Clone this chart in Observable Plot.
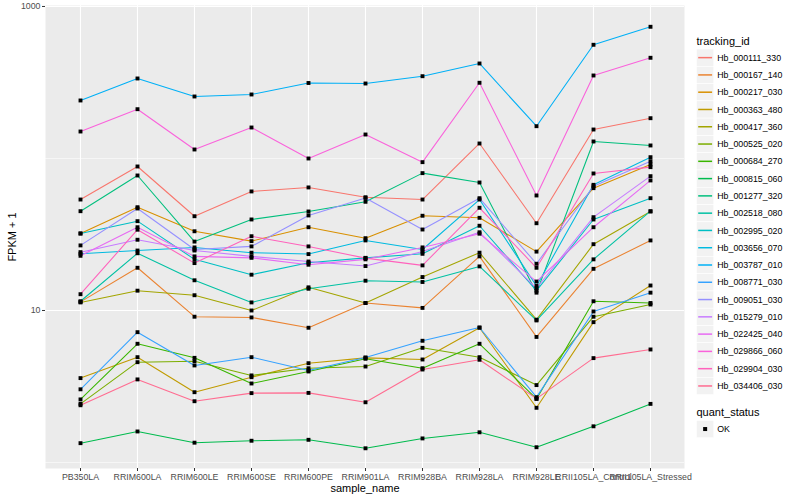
<!DOCTYPE html>
<html>
<head>
<meta charset="utf-8">
<script src="https://cdn.jsdelivr.net/npm/d3@7"></script>
<script src="https://cdn.jsdelivr.net/npm/@observablehq/plot@0.6"></script>
<style>
  body { margin: 0; background: #fff; font-family: "Liberation Sans", Arial, Helvetica, sans-serif; }
  #wrap { position: relative; width: 800px; height: 500px; overflow: hidden; }
  #wrap > svg { display: block; }
  g[aria-label="x-axis tick label"], g[aria-label="y-axis tick label"] { font-size: 8.8px; fill: #4D4D4D; }
  g[aria-label="x-axis label"], g[aria-label="y-axis label"] { font-size: 11px; fill: #000; }
  g[aria-label="x-axis tick"], g[aria-label="y-axis tick"] { stroke: #333333; }
  .legend { position: absolute; left: 690px; top: 0; }
</style>
</head>
<body>
<div id="wrap"></div>
<script>
// x categories
const samples = ["PB350LA", "RRIM600LA", "RRIM600LE", "RRIM600SE", "RRIM600PE", "RRIM901LA",
                 "RRIM928BA", "RRIM928LA", "RRIM928LE", "RRII105LA_Control", "RRII105LA_Stressed"];

// series (tracking_id) names and colours
const ids = ["Hb_000111_330", "Hb_000167_140", "Hb_000217_030", "Hb_000363_480", "Hb_000417_360",
             "Hb_000525_020", "Hb_000684_270", "Hb_000815_060", "Hb_001277_320", "Hb_002518_080",
             "Hb_002995_020", "Hb_003656_070", "Hb_003787_010", "Hb_008771_030", "Hb_009051_030",
             "Hb_015279_010", "Hb_022425_040", "Hb_029866_060", "Hb_029904_030", "Hb_034406_030"];
const colors = ["#F8766D", "#EA8331", "#D89000", "#C09B00", "#A3A500", "#7CAE00", "#39B600", "#00BB4E",
                "#00BF7D", "#00C1A3", "#00BFC4", "#00BAE0", "#00B0F6", "#35A2FF", "#9590FF", "#C77CFF",
                "#E76BF3", "#FA62DB", "#FF62BC", "#FF6C91"];

// FPKM + 1 values per series, in the order of samples
const hb000111_330 = [53.7, 88.6, 41.7, 60.7, 64.5, 55.6, 53.7, 125.5, 37.5, 155.1, 184.1];
const hb000167_140 = [11.4, 19.1, 9.1, 9.0, 7.7, 11.2, 10.4, 22.7, 6.7, 18.8, 28.9];
const hb000217_030 = [32.1, 47.8, 33.2, 28.6, 35.3, 29.9, 42.0, 40.7, 24.4, 63.8, 91.3];
const hb000363_480 = [3.59, 4.93, 2.90, 3.64, 4.50, 4.88, 4.76, 7.7, 2.29, 8.38, 14.6];
const hb000417_360 = [11.3, 13.5, 12.6, 10.0, 14.2, 11.2, 16.6, 24.0, 8.7, 27.3, 44.8];
const hb000525_020 = [2.43, 4.57, 4.64, 3.74, 4.17, 4.28, 5.68, 4.93, 3.23, 9.1, 10.95];
const hb000684_270 = [2.60, 6.04, 4.88, 3.31, 3.97, 4.81, 4.17, 6.04, 2.62, 11.5, 11.2];
const hb000815_060 = [1.34, 1.60, 1.35, 1.39, 1.41, 1.24, 1.44, 1.58, 1.26, 1.73, 2.43];
const hb001277_320 = [45.0, 77.3, 28.4, 39.7, 44.8, 51.9, 80.1, 69.5, 13.1, 129.4, 121.8];
const hb002518_080 = [11.5, 23.8, 15.8, 11.3, 13.9, 15.7, 15.4, 19.5, 8.6, 21.7, 45.0];
const hb002995_020 = [32.1, 38.7, 21.7, 17.2, 20.6, 22.2, 23.6, 36.1, 13.5, 39.7, 54.8];
const hb003656_070 = [23.6, 24.8, 26.0, 24.0, 23.5, 28.9, 25.2, 53.7, 14.5, 67.1, 102];
const hb003787_010 = [240.8, 336, 255.8, 263.7, 313.8, 311.4, 347.8, 421.7, 163.1, 559.8, 735.3];
const hb008771_030 = [3.03, 7.20, 4.35, 4.93, 4.03, 4.91, 6.32, 7.73, 2.69, 9.85, 13.1];
const hb009051_030 = [26.8, 46.9, 25.2, 26.4, 42.2, 55.0, 34.1, 54.8, 20.3, 65.7, 96.0];
const hb015279_010 = [24.2, 29.2, 24.8, 22.7, 21.0, 19.6, 24.4, 32.7, 14.0, 41.1, 76.5];
const hb022425_040 = [22.9, 35.3, 22.7, 22.2, 20.0, 21.7, 26.0, 32.0, 15.5, 35.3, 71.7];
const hb029866_060 = [150.5, 211, 114.6, 159.9, 100, 143.8, 94.6, 314.8, 57.1, 351.6, 459.7];
const hb029904_030 = [12.8, 34.0, 20.5, 30.8, 26.4, 22.1, 19.8, 47.4, 19.1, 79.7, 87.7];
const hb034406_030 = [2.38, 3.52, 2.53, 2.86, 2.87, 2.49, 4.09, 4.74, 2.63, 4.86, 5.54];

const series = [hb000111_330, hb000167_140, hb000217_030, hb000363_480, hb000417_360, hb000525_020,
                hb000684_270, hb000815_060, hb001277_320, hb002518_080, hb002995_020, hb003656_070,
                hb003787_010, hb008771_030, hb009051_030, hb015279_010, hb022425_040, hb029866_060,
                hb029904_030, hb034406_030];

// axis breaks
const yTicks = [10, 1000];
const yMinor = [1, 100];
const yDomain = [0.913, 1015];

const data = [];
series.forEach((vals, i) => vals.forEach((v, j) => data.push({id: ids[i], sample: samples[j], value: v})));

const chart = Plot.plot({
  width: 800,
  height: 500,
  marginLeft: 45,
  marginRight: 116,
  marginTop: 5,
  marginBottom: 32,
  style: {fontFamily: "'Liberation Sans', Arial, Helvetica, sans-serif", background: "white", overflow: "visible"},
  x: {type: "point", domain: samples, padding: 0.6, label: null},
  y: {type: "log", domain: yDomain, label: null},
  color: {domain: ids, range: colors},
  marks: [
    Plot.frame({fill: "#EBEBEB", stroke: "none"}),
    Plot.gridY(yMinor, {stroke: "white", strokeOpacity: 1, strokeWidth: 0.55}),
    Plot.gridY(yTicks, {stroke: "white", strokeOpacity: 1, strokeWidth: 1.1}),
    Plot.gridX(samples, {stroke: "white", strokeOpacity: 1, strokeWidth: 1.1}),
    Plot.line(data, {x: "sample", y: "value", z: "id", stroke: "id", strokeWidth: 1.07}),
    Plot.dot(data, {x: "sample", y: "value", fill: "black", stroke: "none", r: 2.2, symbol: "square"}),
    Plot.axisX(samples, {tickSize: 3, tickPadding: 2, label: "sample_name", labelAnchor: "center", labelArrow: "none", labelOffset: 23}),
    Plot.axisY(yTicks, {tickSize: 3, tickPadding: 2, tickFormat: d => String(d), label: "FPKM + 1", labelAnchor: "center", labelArrow: "none", labelOffset: 37})
  ]
});
document.getElementById("wrap").appendChild(chart);

// legend (SVG, right of the panel)
const key = 17.28;
const lg = d3.select("#wrap").append("svg").attr("class", "legend")
  .attr("width", 110).attr("height", 500)
  .style("font-family", "'Liberation Sans', Arial, Helvetica, sans-serif");
lg.append("text").attr("x", 6.5).attr("y", 40.7).attr("dy", "0.35em")
  .attr("font-size", 11).attr("fill", "#000").text("tracking_id");
const rows = lg.selectAll("g.row").data(ids).join("g").attr("class", "row")
  .attr("transform", (d, i) => `translate(6.5,${49 + i * key})`);
rows.append("rect").attr("width", key).attr("height", key).attr("fill", "#F2F2F2").attr("stroke", "#fff").attr("stroke-width", 0.6);
rows.append("line").attr("x1", 1.7).attr("x2", key - 1.7).attr("y1", key / 2).attr("y2", key / 2)
  .attr("stroke", (d, i) => colors[i]).attr("stroke-width", 1.5);
rows.append("text").attr("x", key + 3.5).attr("y", key / 2).attr("dy", "0.35em")
  .attr("font-size", 8.8).attr("fill", "#000").text(d => d);
lg.append("text").attr("x", 6.5).attr("y", 412.3).attr("dy", "0.35em")
  .attr("font-size", 11).attr("fill", "#000").text("quant_status");
const ok = lg.append("g").attr("transform", `translate(6.5,420.4)`);
ok.append("rect").attr("width", key).attr("height", key).attr("fill", "#F2F2F2").attr("stroke", "#fff").attr("stroke-width", 0.6);
ok.append("rect").attr("x", key / 2 - 2).attr("y", key / 2 - 2).attr("width", 4).attr("height", 4).attr("fill", "#000");
ok.append("text").attr("x", key + 3.5).attr("y", key / 2).attr("dy", "0.35em")
  .attr("font-size", 8.8).attr("fill", "#000").text("OK");
</script>
</body>
</html>
